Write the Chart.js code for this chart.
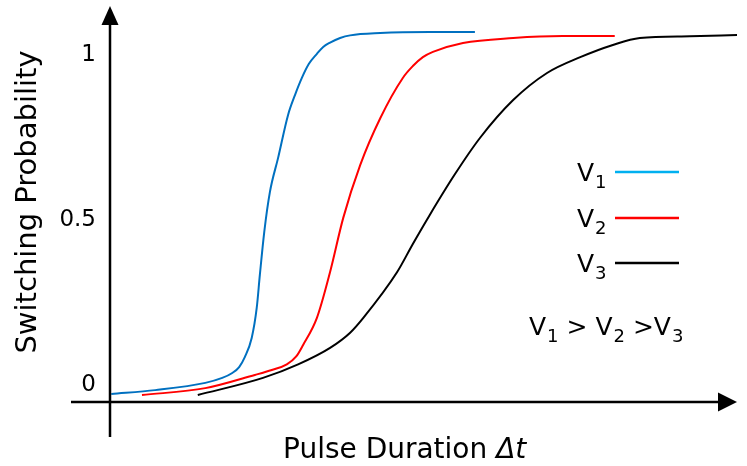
<!DOCTYPE html>
<html>
<head>
<meta charset="utf-8">
<script src="https://cdn.jsdelivr.net/npm/chart.js@4.4.1/dist/chart.umd.min.js"></script>
<style>
  html, body { margin: 0; padding: 0; background: #ffffff; }
  canvas { display: block; }
</style>
</head>
<body>
<canvas id="c" width="747" height="466"></canvas>
<script>
// ---- data ----
const seriesLabels = ["1", "2", "3"];          // subscripts of V
const seriesColors = ["#0070C0", "#FF0000", "#000000"];
const legendColors = ["#00B0F0", "#FF0000", "#000000"];

const v1X = [0.02, 0.72, 1.52, 1.79, 1.95, 2.06, 2.15, 2.26, 2.34, 2.39, 2.46, 2.55, 2.68, 2.84, 2.95, 3.06, 3.17, 3.30, 3.40, 3.51, 3.67, 3.83, 4.31, 5.10, 5.82];
const v1Y = [-0.026, -0.014, 0.008, 0.023, 0.038, 0.056, 0.086, 0.144, 0.235, 0.335, 0.465, 0.586, 0.689, 0.820, 0.880, 0.932, 0.974, 1.005, 1.026, 1.039, 1.053, 1.061, 1.068, 1.071, 1.071];

const v2X = [0.51, 1.52, 2.31, 2.58, 2.82, 2.97, 3.08, 3.30, 3.51, 3.72, 3.99, 4.31, 4.67, 4.83, 4.99, 5.15, 5.63, 6.43, 7.22, 8.05];
const v2Y = [-0.029, -0.008, 0.032, 0.047, 0.064, 0.088, 0.123, 0.205, 0.344, 0.508, 0.668, 0.810, 0.932, 0.968, 0.995, 1.011, 1.038, 1.053, 1.059, 1.059];

const v3X = [1.40, 2.44, 3.00, 3.51, 3.83, 4.04, 4.58, 4.83, 5.10, 5.50, 5.90, 6.43, 6.97, 7.50, 8.02, 8.45, 9.25, 10.0];
const v3Y = [-0.029, 0.023, 0.064, 0.114, 0.160, 0.205, 0.344, 0.429, 0.517, 0.640, 0.750, 0.865, 0.947, 0.995, 1.032, 1.053, 1.058, 1.062];

const yTickValues = [0, 0.5, 1];
const yTickLabels = ["0", "0.5", "1"];
const xTitleMain = "Pulse Duration ";
const xTitleItalic = "\u0394t";
const yTitle = "Switching Probability";

const FONT = "'DejaVu Sans', Verdana, sans-serif";

function pts(xs, ys) { return xs.map((x, i) => ({ x: x, y: ys[i] })); }

const axesPlugin = {
  id: 'axesPlugin',
  afterDraw(chart) {
    const ctx = chart.ctx;
    const xs = chart.scales.x, ys = chart.scales.y;
    const x0 = xs.getPixelForValue(0);
    const yBase = ys.getPixelForValue(ys.min);
    const yTop = ys.getPixelForValue(ys.max);
    const xRight = xs.getPixelForValue(xs.max);
    ctx.save();
    ctx.strokeStyle = '#000'; ctx.fillStyle = '#000'; ctx.lineWidth = 2.5;
    // y axis
    ctx.beginPath(); ctx.moveTo(x0, 437); ctx.lineTo(x0, yTop + 16); ctx.stroke();
    ctx.beginPath(); ctx.moveTo(x0, yTop); ctx.lineTo(x0 - 8.5, yTop + 19); ctx.lineTo(x0 + 8.5, yTop + 19); ctx.closePath(); ctx.fill();
    // x axis
    ctx.beginPath(); ctx.moveTo(71, yBase); ctx.lineTo(xRight - 16, yBase); ctx.stroke();
    ctx.beginPath(); ctx.moveTo(xRight, yBase); ctx.lineTo(xRight - 19, yBase - 9.5); ctx.lineTo(xRight - 19, yBase + 9.5); ctx.closePath(); ctx.fill();
    // y tick labels
    ctx.font = "23px " + FONT;
    ctx.textAlign = 'right'; ctx.textBaseline = 'middle';
    yTickValues.forEach((v, i) => ctx.fillText(yTickLabels[i], x0 - 14, ys.getPixelForValue(v)));
    // y title
    ctx.save();
    ctx.font = "29px " + FONT;
    ctx.textAlign = 'center'; ctx.textBaseline = 'alphabetic';
    ctx.translate(36, 202); ctx.rotate(-Math.PI / 2);
    ctx.fillText(yTitle, 0, 0);
    ctx.restore();
    // x title
    ctx.textAlign = 'left'; ctx.textBaseline = 'alphabetic';
    ctx.font = "28px " + FONT;
    ctx.fillText(xTitleMain, 283, 458);
    const w = ctx.measureText(xTitleMain).width;
    ctx.font = "italic 28px " + FONT;
    ctx.fillText(xTitleItalic, 283 + w, 458);

    // legend
    function vSub(x, y, sub) {
      ctx.font = "25px " + FONT;
      ctx.fillText("V", x, y);
      const wv = ctx.measureText("V").width;
      ctx.font = "18px " + FONT;
      ctx.fillText(sub, x + wv + 1, y + 7);
      return x + wv + 1 + ctx.measureText(sub).width;
    }
    const rowY = [172, 218, 263];
    chart.data.datasets.forEach((ds, i) => {
      vSub(577, rowY[i] + 9, seriesLabels[i]);
      ctx.strokeStyle = legendColors[i]; ctx.lineWidth = 2.5;
      ctx.beginPath(); ctx.moveTo(615, rowY[i]); ctx.lineTo(679, rowY[i]); ctx.stroke();
    });
    // relation text
    let cx = 529; const by = 335;
    cx = vSub(cx, by, seriesLabels[0]);
    ctx.font = "25px " + FONT; ctx.fillText(" > ", cx, by); cx += ctx.measureText(" > ").width;
    cx = vSub(cx, by, seriesLabels[1]);
    ctx.font = "25px " + FONT; ctx.fillText(" >", cx, by); cx += ctx.measureText(" >").width;
    vSub(cx, by, seriesLabels[2]);
    ctx.restore();
  }
};

new Chart(document.getElementById('c'), {
  type: 'line',
  data: {
    datasets: [
      { label: 'V1', data: pts(v1X, v1Y), borderColor: seriesColors[0] },
      { label: 'V2', data: pts(v2X, v2Y), borderColor: seriesColors[1] },
      { label: 'V3', data: pts(v3X, v3Y), borderColor: seriesColors[2] }
    ].map(d => Object.assign(d, { borderWidth: 2, pointRadius: 0, cubicInterpolationMode: 'monotone', fill: false, clip: false }))
  },
  options: {
    responsive: false,
    animation: false,
    devicePixelRatio: 1,
    layout: { padding: { left: 110, right: 10, top: 6, bottom: 64 } },
    plugins: { legend: { display: false }, tooltip: { enabled: false } },
    scales: {
      x: { type: 'linear', min: 0, max: 10, display: false },
      y: { type: 'linear', min: -0.05, max: 1.15, display: false }
    }
  },
  plugins: [axesPlugin]
});
</script>
</body>
</html>
